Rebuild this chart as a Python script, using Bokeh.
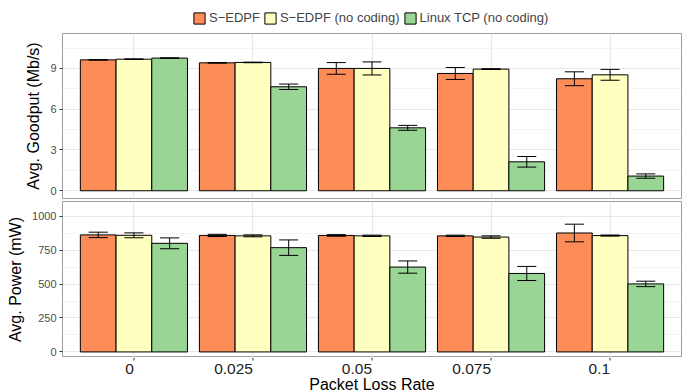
from bokeh.plotting import figure
from bokeh.models import FactorRange, Range1d, FixedTicker, Legend, LegendItem, ColumnDataSource
from bokeh.core.properties import value
from bokeh.transform import dodge
from bokeh.layouts import column
from bokeh.embed import file_html
from bokeh.resources import INLINE

rates = ["0", "0.025", "0.05", "0.075", "0.1"]
series = ["S\u2212EDPF", "S\u2212EDPF (no coding)", "Linux TCP (no coding)"]
colors = ["#fc8d59", "#ffffbf", "#99d594"]
x_title = "Packet Loss Rate"

goodput_edpf = [9.63, 9.41, 9.00, 8.63, 8.24]
goodput_edpf_err = [0.02, 0.02, 0.43, 0.44, 0.51]
goodput_nocode = [9.68, 9.44, 9.00, 8.95, 8.53]
goodput_nocode_err = [0.02, 0.02, 0.48, 0.03, 0.40]
goodput_tcp = [9.76, 7.65, 4.63, 2.13, 1.08]
goodput_tcp_err = [0.02, 0.20, 0.18, 0.39, 0.16]

power_edpf = [862, 858, 858, 855, 876]
power_edpf_err = [20, 8, 6, 5, 65]
power_nocode = [859, 855, 855, 846, 857]
power_nocode_err = [18, 7, 5, 9, 4]
power_tcp = [800, 768, 625, 578, 501]
power_tcp_err = [40, 57, 45, 52, 20]

FONT = "Liberation Sans"
OFFSETS = [-0.3, 0.0, 0.3]
BAR_W = 0.3
CAP = 0.08
W = 683


def xr():
    return FactorRange(*rates, range_padding=0.1, range_padding_units="absolute")


def bare(height, left, y_range):
    p = figure(x_range=xr(), y_range=y_range, width=W, height=height,
               output_backend="svg", toolbar_location=None,
               min_border_left=left, min_border_right=2, min_border_top=0,
               min_border_bottom=0, background_fill_color="white",
               border_fill_color="white")
    p.outline_line_color = None
    p.xaxis.visible = False
    p.yaxis.visible = False
    p.grid.visible = False
    return p


def make_fig(height, y_range, ticks, minor, min_left, min_bottom):
    p = figure(x_range=xr(), y_range=y_range, width=W, height=height, output_backend="svg",
               toolbar_location=None, min_border_left=min_left, min_border_right=2,
               min_border_top=0, min_border_bottom=min_bottom,
               background_fill_color="white", border_fill_color="white")
    p.outline_line_color = "#9e9e9e"
    p.outline_line_width = 1
    p.xaxis.visible = False
    p.xgrid.grid_line_color = "#e8e8e8"
    p.xgrid.grid_line_width = 1.2
    p.ygrid.grid_line_color = "#e8e8e8"
    p.ygrid.grid_line_width = 1.2
    p.ygrid.minor_grid_line_color = "#f3f3f3"
    p.ygrid.minor_grid_line_width = 0.8
    p.yaxis.ticker = FixedTicker(ticks=ticks, minor_ticks=minor)
    ax = p.yaxis
    ax.axis_line_color = None
    ax.major_tick_line_color = "#333333"
    ax.major_tick_out = 3
    ax.major_tick_in = 0
    ax.minor_tick_line_color = None
    ax.major_label_text_font = FONT
    ax.major_label_text_font_size = "11px"
    ax.major_label_text_color = "#4d4d4d"
    ax.major_label_standoff = 2
    ax.axis_label_text_font = FONT
    ax.axis_label_text_font_size = "16px"
    ax.axis_label_text_font_style = "normal"
    ax.axis_label_text_color = "black"
    ax.axis_label_standoff = 5
    return p


def make_source(vals, errs):
    data = {"rate": rates}
    for i in range(3):
        data[f"v{i}"] = vals[i]
        data[f"lo{i}"] = [v - e for v, e in zip(vals[i], errs[i])]
        data[f"hi{i}"] = [v + e for v, e in zip(vals[i], errs[i])]
    return ColumnDataSource(data)


def add_bars(p, src, visible=True):
    rends = []
    for i in range(3):
        r = p.vbar(x=dodge("rate", OFFSETS[i], range=p.x_range), top=f"v{i}", bottom=0,
                   width=BAR_W, fill_color=colors[i], line_color="black", line_width=1,
                   source=src, visible=visible)
        rends.append(r)
    return rends


def add_errors(p, src):
    for i in range(3):
        o = OFFSETS[i]
        xc = dodge("rate", o, range=p.x_range)
        p.segment(x0=xc, x1=xc, y0=f"lo{i}", y1=f"hi{i}", line_color="black",
                  line_width=1, source=src)
        for end in ("lo", "hi"):
            p.segment(x0=dodge("rate", o - CAP, range=p.x_range),
                      x1=dodge("rate", o + CAP, range=p.x_range),
                      y0=f"{end}{i}", y1=f"{end}{i}", line_color="black",
                      line_width=1, source=src)


src_g = make_source([goodput_edpf, goodput_nocode, goodput_tcp],
                    [goodput_edpf_err, goodput_nocode_err, goodput_tcp_err])
src_p = make_source([power_edpf, power_nocode, power_tcp],
                    [power_edpf_err, power_nocode_err, power_tcp_err])

# legend strip
pl = bare(33, 0, Range1d(0, 1))
rl = add_bars(pl, src_g, visible=False)
legend = Legend(items=[LegendItem(label=series[i], renderers=[rl[i]]) for i in range(3)],
                orientation="horizontal", location=(130, 8),
                glyph_width=14, glyph_height=14, label_height=14, label_width=10,
                label_standoff=3, spacing=3, padding=0, margin=0,
                label_text_font=FONT, label_text_font_size="13px",
                border_line_color=None, background_fill_alpha=0)
pl.add_layout(legend, "center")

# top panel: goodput
p1 = make_fig(168, Range1d(-0.57, 11.57), [0, 3, 6, 9], [1.5, 4.5, 7.5, 10.5], 58, 3)
p1.yaxis.axis_label = "Avg. Goodput (Mb/s)"
add_bars(p1, src_g)
add_errors(p1, src_g)

# bottom panel: power
p2 = make_fig(156, Range1d(-41, 1108), [0, 250, 500, 750, 1000],
              [125, 375, 625, 875, 1125], 62, 0)
p2.yaxis.axis_label = "Avg. Power (mW)"
add_bars(p2, src_p)
add_errors(p2, src_p)

# x axis strip: ticks, right-aligned tick labels and title
px = bare(35, 62, Range1d(0, 35))
tick_src = ColumnDataSource({"rate": rates, "top": [35] * len(rates), "bot": [32] * len(rates)})
px.segment(x0="rate", x1="rate", y0="top", y1="bot", line_color="#333333", line_width=1,
           source=tick_src)
px.text(x="rate", y=28.5, text="rate", text_align="right", text_baseline="top",
        text_font=value(FONT), text_font_size="15.5px", text_color="#222222",
        source=tick_src)
title_src = ColumnDataSource({"x": [rates[2]], "t": [x_title]})
px.text(x="x", y=17, text="t", text_align="center", text_baseline="top",
        text_font=value(FONT), text_font_size="16px", text_color="black",
        source=title_src)

layout = column(pl, p1, p2, px, spacing=0)
open("out.html", "w").write(file_html(layout, INLINE))
